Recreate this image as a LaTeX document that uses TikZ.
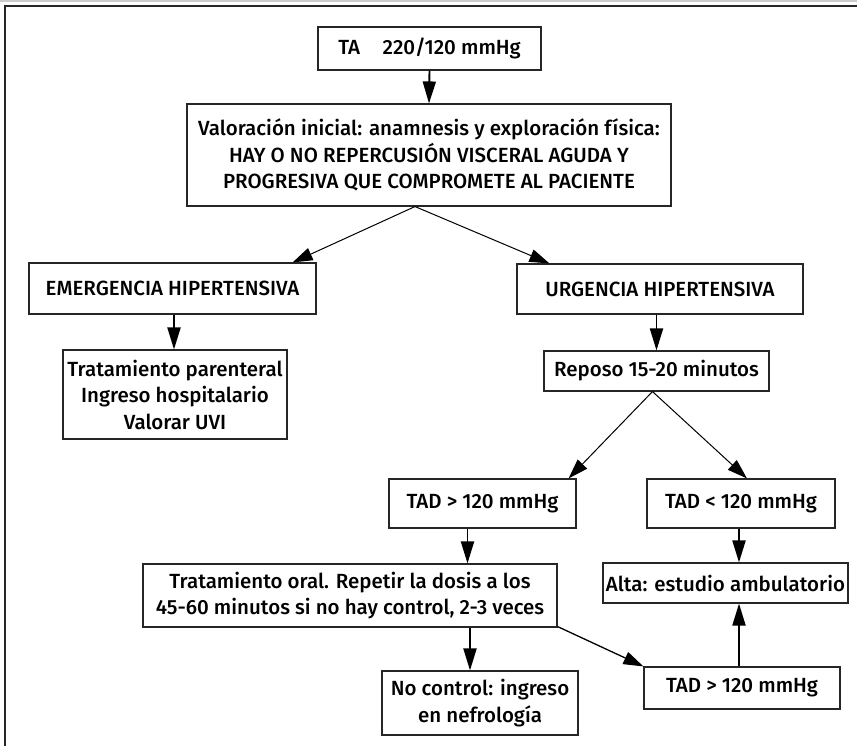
\documentclass[tikz,border=0pt]{standalone}
\usepackage{fontspec}
\newfontfamily\boxfont{Fira Sans}[UprightFont={* Medium}]
\usetikzlibrary{arrows.meta,positioning}

\begin{document}
\begin{tikzpicture}[x=1pt,y=-1pt]
            \tikzstyle{box} = [draw=black!85, line width=1.1pt, align=center, inner sep=0pt, font=\boxfont\fontsize{20.5}{26.5}\selectfont]
            \tikzstyle{flow} = [-{Triangle[length=22pt,width=13pt]}, line width=1.9pt]
            \tikzstyle{split} = [-{Triangle[length=20pt,width=13pt]}, line width=1pt]
            \useasboundingbox (0,0) rectangle (857,746);
            % frame
            \fill[black!20] (0,0) rectangle (857,2.5);
            \draw[line width=2pt, black!85] (5,746) -- (5,6) -- (857,6);
            % boxes
            \node[box, minimum width=223pt, minimum height=43pt] (ta) at (429.5,48.5) {TA\hspace{1.1em}220/120 mmHg};
            \node[box, minimum width=484pt, minimum height=102pt] (main) at (429,155) {Valoración inicial: anamnesis y exploración física:\\HAY O NO REPERCUSIÓN VISCERAL AGUDA Y\\PROGRESIVA QUE COMPROMETE AL PACIENTE};
            \node[box, minimum width=287pt, minimum height=51pt] (emerg) at (172.5,288.5) {EMERGENCIA HIPERTENSIVA};
            \node[box, minimum width=224pt, minimum height=89pt] (parent) at (175,394.5) {Tratamiento parenteral\\Ingreso hospitalario\\Valorar UVI};
            \node[box, minimum width=286pt, minimum height=50pt] (urg) at (660,289) {URGENCIA HIPERTENSIVA};
            \node[box, minimum width=225pt, minimum height=40pt] (reposo) at (656.5,371) {Reposo 15-20 minutos};
            \node[box, minimum width=187pt, minimum height=49pt] (tadhi) at (482.5,503.5) {TAD > 120 mmHg};
            \node[box, minimum width=188pt, minimum height=49pt] (tadlo) at (741,503.5) {TAD < 120 mmHg};
            \node[box, minimum width=414pt, minimum height=63pt] (oral) at (350,595.5) {Tratamiento oral. Repetir la dosis a los\\45-60 minutos si no hay control, 2-3 veces};
            \node[box, minimum width=245pt, minimum height=40pt] (alta) at (725.5,583) {Alta: estudio ambulatorio};
            \node[box, minimum width=196pt, minimum height=64pt] (nocon) at (480,703) {No control: ingreso\\en nefrología};
            \node[box, minimum width=196pt, minimum height=42pt] (tadhi2) at (742,688) {TAD > 120 mmHg};
            % connectors
            \draw[flow] (ta.south) -- (main.north);
            \draw[split] ([xshift=-14pt]main.south) -- ([xshift=-24pt]emerg.north east);
            \draw[split] ([xshift=-14pt]main.south) -- ([xshift=33pt]urg.north west);
            \draw[flow] ([xshift=1.5pt]emerg.south) -- ([xshift=1.5pt]emerg.south |- parent.north);
            \draw[flow] (reposo.north |- urg.south) -- (reposo.north);
            \draw[split] ([xshift=-4pt]reposo.south) -- ([xshift=-8pt]tadhi.north east);
            \draw[split] ([xshift=-4pt]reposo.south) -- ([xshift=6pt]tadlo.north);
            \draw[flow] ([xshift=-15pt]tadhi.south) -- ([xshift=-15pt]tadhi.south |- oral.north);
            \draw[flow] ([xshift=-2pt]tadlo.south) -- ([xshift=-2pt]tadlo.south |- alta.north);
            \draw[flow] ([xshift=-10pt]nocon.north |- oral.south) -- ([xshift=-10pt]nocon.north);
            \draw[split, line width=1.3pt] ([yshift=1pt]oral.south east) -- (tadhi2.north west);
            \draw[flow] ([xshift=-3pt]tadhi2.north) -- ([xshift=-3pt]tadhi2.north |- alta.south);
\end{tikzpicture}
\end{document}
